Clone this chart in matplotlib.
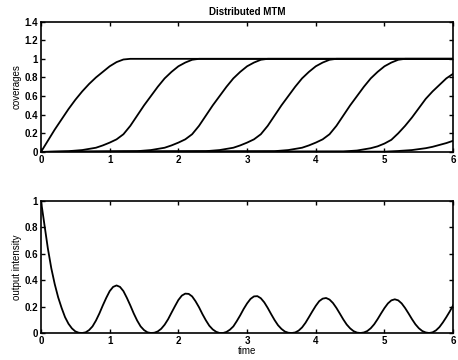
import matplotlib
matplotlib.use("Agg")
import matplotlib.pyplot as plt
from matplotlib.ticker import FormatStrFormatter

# coverage curves (one list per curve)
t0 = [0, 0.1, 0.2, 0.3, 0.4, 0.5, 0.6, 0.7, 0.8, 0.9, 1.0, 1.1, 1.2, 1.3, 6.0]
c0 = [0, 0.12, 0.24, 0.35, 0.46, 0.56, 0.65, 0.73, 0.80, 0.86, 0.92, 0.965, 0.993, 1.0, 1.0]

t1 = [0, 0.4, 0.6, 0.8, 0.9, 1.0, 1.1, 1.2, 1.3, 1.4, 1.5, 1.6, 1.7, 1.8, 1.9, 2.0, 2.1, 2.2, 2.3, 6.0]
c1 = [0, 0.008, 0.02, 0.045, 0.07, 0.10, 0.135, 0.19, 0.28, 0.39, 0.50, 0.60, 0.70, 0.79, 0.86, 0.92, 0.96, 0.99, 1.0, 1.0]

t2 = [0, 1.4, 1.6, 1.8, 1.9, 2.0, 2.1, 2.2, 2.3, 2.4, 2.5, 2.6, 2.7, 2.8, 2.9, 3.0, 3.1, 3.2, 3.3, 6.0]
c2 = [0, 0.008, 0.02, 0.045, 0.07, 0.10, 0.135, 0.19, 0.28, 0.39, 0.50, 0.60, 0.70, 0.79, 0.86, 0.92, 0.96, 0.99, 1.0, 1.0]

t3 = [0, 2.4, 2.6, 2.8, 2.9, 3.0, 3.1, 3.2, 3.3, 3.4, 3.5, 3.6, 3.7, 3.8, 3.9, 4.0, 4.1, 4.2, 4.3, 6.0]
c3 = [0, 0.008, 0.02, 0.045, 0.07, 0.10, 0.135, 0.19, 0.28, 0.39, 0.50, 0.60, 0.70, 0.79, 0.86, 0.92, 0.96, 0.99, 1.0, 1.0]

t4 = [0, 3.4, 3.6, 3.8, 3.9, 4.0, 4.1, 4.2, 4.3, 4.4, 4.5, 4.6, 4.7, 4.8, 4.9, 5.0, 5.1, 5.2, 5.3, 6.0]
c4 = [0, 0.008, 0.02, 0.045, 0.07, 0.10, 0.135, 0.19, 0.28, 0.39, 0.50, 0.60, 0.70, 0.79, 0.86, 0.92, 0.96, 0.99, 1.0, 1.0]

t5 = [0, 4.4, 4.6, 4.8, 4.9, 5.0, 5.1, 5.2, 5.3, 5.4, 5.5, 5.6, 5.7, 5.8, 5.9, 6.0]
c5 = [0, 0.005, 0.015, 0.04, 0.06, 0.09, 0.13, 0.20, 0.28, 0.37, 0.47, 0.57, 0.65, 0.72, 0.79, 0.84]

t6 = [0, 5.0, 5.2, 5.4, 5.6, 5.7, 5.8, 5.9, 6.0]
c6 = [0, 0.003, 0.01, 0.02, 0.04, 0.055, 0.075, 0.095, 0.12]

# output intensity, every 0.05 in time
t_out = [i * 0.05 for i in range(121)]
out = [1.00, 0.82, 0.64, 0.49, 0.37, 0.27, 0.19, 0.12, 0.07, 0.035,
       0.012, 0.002, 0.0, 0.005, 0.022, 0.05, 0.094, 0.148, 0.209, 0.266,
       0.317, 0.349, 0.36, 0.349, 0.317, 0.266, 0.209, 0.148, 0.094, 0.05,
       0.022, 0.005, 0.0, 0.002, 0.012, 0.032, 0.063, 0.104, 0.154, 0.203,
       0.25, 0.283, 0.298, 0.296, 0.277, 0.24, 0.195, 0.143, 0.096, 0.055,
       0.027, 0.009, 0.0, 0.0, 0.008, 0.025, 0.05, 0.09, 0.134, 0.182,
       0.224, 0.258, 0.277, 0.279, 0.263, 0.232, 0.19, 0.143, 0.098, 0.059,
       0.031, 0.011, 0.002, 0.0, 0.004, 0.018, 0.042, 0.077, 0.12, 0.164,
       0.206, 0.241, 0.26, 0.265, 0.253, 0.227, 0.19, 0.147, 0.103, 0.064,
       0.035, 0.014, 0.003, 0.0, 0.004, 0.015, 0.036, 0.066, 0.105, 0.148,
       0.189, 0.224, 0.247, 0.255, 0.247, 0.224, 0.189, 0.148, 0.105, 0.066,
       0.036, 0.015, 0.004, 0.0, 0.005, 0.02, 0.045, 0.08, 0.12, 0.163,
       0.21]

plt.rcParams['font.family'] = 'Liberation Sans'
plt.rcParams['font.size'] = 7
plt.rcParams['font.weight'] = 'bold'

fig = plt.figure(figsize=(4.58, 3.6), dpi=100)
ax1 = fig.add_axes([0.0895, 0.578, 0.9, 0.362])
ax2 = fig.add_axes([0.0895, 0.075, 0.9, 0.367])

for t, c in [(t0, c0), (t1, c1), (t2, c2), (t3, c3), (t4, c4), (t5, c5), (t6, c6)]:
    ax1.plot(t, c, color='black', lw=1.3)
ax2.plot(t_out, out, color='black', lw=1.3)

ax1.set_xlim(0, 6)
ax1.set_ylim(0, 1.4)
ax1.set_yticks([0, 0.2, 0.4, 0.6, 0.8, 1.0, 1.2, 1.4])
ax2.set_xlim(0, 6)
ax2.set_ylim(0, 1)
ax2.set_yticks([0, 0.2, 0.4, 0.6, 0.8, 1.0])

for ax in (ax1, ax2):
    ax.set_xticks([0, 1, 2, 3, 4, 5, 6])
    ax.yaxis.set_major_formatter(FormatStrFormatter('%g'))
    ax.tick_params(direction='in', length=3, width=1, top=True, right=True, pad=2)
    for s in ax.spines.values():
        s.set_linewidth(1.2)

ax1.set_title('Distributed MTM', fontsize=7, fontweight='bold', pad=5)
ax1.set_ylabel('coverages', fontsize=7, fontweight='normal', labelpad=2)
ax2.set_ylabel('output intensity', fontsize=7, fontweight='normal', labelpad=2)
ax2.set_xlabel('time', fontsize=7, labelpad=0)

plt.savefig('out.png', dpi=100)
